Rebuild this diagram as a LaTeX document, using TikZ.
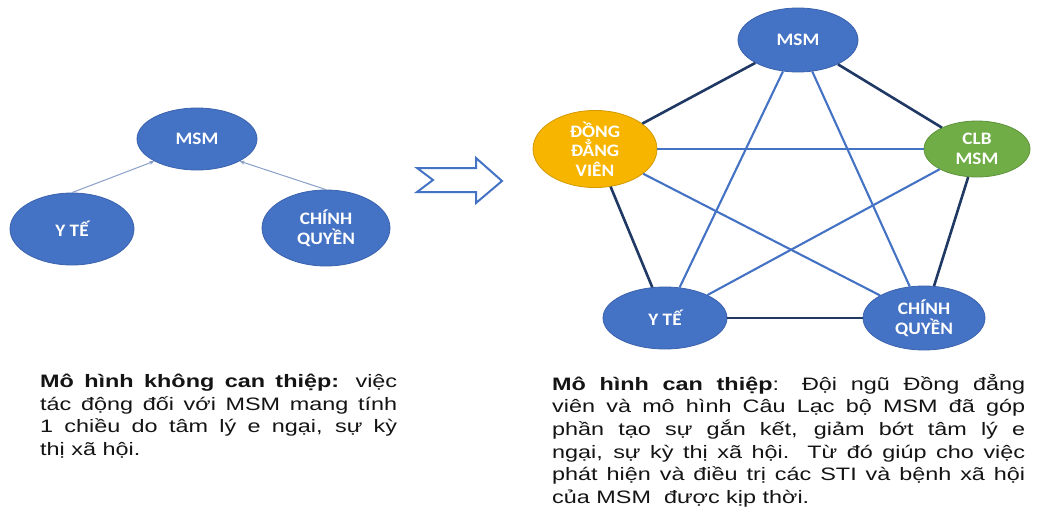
\documentclass[tikz,border=0pt]{standalone}
\usepackage{fontspec}
\setmainfont{Liberation Sans}[FakeStretch=1.3]
\newfontfamily\nodefont{Carlito}[FakeStretch=1.1]
\usetikzlibrary{shapes.geometric,arrows.meta}

\definecolor{nodeblue}{HTML}{4472C4}
\definecolor{nodeedge}{HTML}{3A62AE}
\definecolor{peerorange}{HTML}{F7B500}
\definecolor{clubgreen}{HTML}{70AD47}
\definecolor{outerlink}{HTML}{1F3864}
\definecolor{innerlink}{HTML}{4472C4}
\definecolor{thinarrow}{HTML}{8A9FC8}
\definecolor{captiontext}{HTML}{141414}

\begin{document}
\begin{tikzpicture}[x=1pt,y=-1pt,
  party/.style={ellipse, draw=nodeedge, line width=0.8pt, fill=nodeblue,
    text=white, align=center, inner sep=0pt,
    font=\nodefont\bfseries\fontsize{17.5}{19.5}\selectfont},
  peer/.style={party, fill=peerorange, draw=peerorange!85!black},
  club/.style={party, fill=clubgreen, draw=clubgreen!85!black},
  oneway/.style={draw=thinarrow, line width=1pt, -{Stealth[length=5pt,width=4pt]}},
  outerlink/.style={draw=outerlink, line width=2.6pt},
  innerlink/.style={draw=innerlink, line width=2.1pt},
  caption/.style={anchor=north west, inner sep=0pt, align=left, text=captiontext,
    font=\fontsize{18}{22.6}\selectfont},
  bigarrow/.style={draw=nodeblue, line width=2pt, fill=white, line join=miter}
]
\useasboundingbox[fill=white] (0,0) rectangle (1044,514);

% ---- one-way model ----
\node[party, minimum width=120, minimum height=62] (lmsm) at (197,139) {MSM};
\node[party, minimum width=124, minimum height=72] (lyte) at (72,229) {Y TẾ};
\node[party, minimum width=128, minimum height=76] (lcq) at (326,228) {CHÍNH\\QUYỀN};
\draw[oneway] (lyte.north) -- (lmsm.south west);
\draw[oneway] (lcq.north) -- (lmsm.south east);

% ---- transition arrow ----
\draw[bigarrow] (417,168) -- (476,168) -- (476,158) -- (502,181) -- (476,203)
  -- (476,192) -- (417,192) -- (433,180) -- cycle;

% ---- networked model ----
\node[party, minimum width=120, minimum height=64] (msm) at (798,40) {MSM};
\node[peer, minimum width=124, minimum height=68] (ddv) at (595,149) {ĐỒNG\\ĐẲNG\\VIÊN};
\node[club, minimum width=106, minimum height=56] (clb) at (977,149) {CLB\\MSM};
\node[party, minimum width=124, minimum height=62] (yte) at (665,318) {Y TẾ};
\node[party, minimum width=122, minimum height=64] (cq) at (924,318) {CHÍNH\\QUYỀN};

\draw[outerlink] (msm) -- (ddv);
\draw[outerlink] (msm) -- (clb);
\draw[outerlink] (ddv) -- (yte);
\draw[outerlink] (clb) -- (cq);
\draw[outerlink] (yte) -- (cq);
\draw[innerlink] (msm) -- (yte);
\draw[innerlink] (msm) -- (cq);
\draw[innerlink] (ddv) -- (clb);
\draw[innerlink] (ddv) -- (cq);
\draw[innerlink] (clb) -- (yte);

% ---- captions ----
\node[caption] (capleft) at (40,374) {%
  \makebox[357pt][s]{\textbf{Mô hình không can thiệp:} việc}\\
  \makebox[357pt][s]{tác động đối với MSM mang tính}\\
  \makebox[357pt][s]{1 chiều do tâm lý e ngại, sự kỳ}\\
  thị xã hội.};
\node[caption] (capright) at (552,374) {%
  \makebox[473pt][s]{\textbf{Mô hình can thiệp}: Đội ngũ Đồng đẳng}\\
  \makebox[473pt][s]{viên và mô hình Câu Lạc bộ MSM đã góp}\\
  \makebox[473pt][s]{phần tạo sự gắn kết, giảm bớt tâm lý e}\\
  \makebox[473pt][s]{ngại, sự kỳ thị xã hội. Từ đó giúp cho việc}\\
  \makebox[473pt][s]{phát hiện và điều trị các STI và bệnh xã hội}\\
  của MSM\ \ được kịp thời.};
\end{tikzpicture}
\end{document}
